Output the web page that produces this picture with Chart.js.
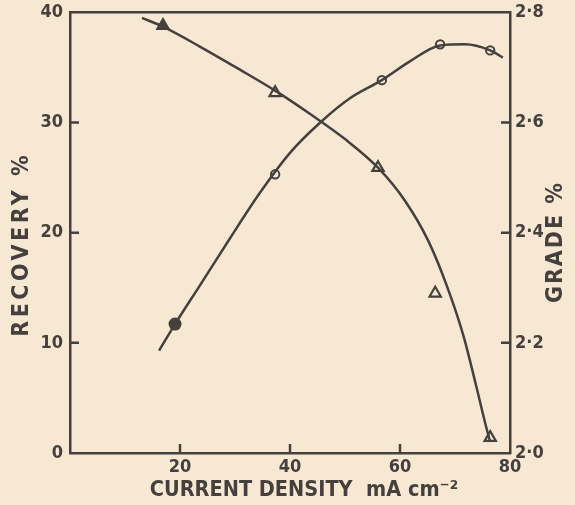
<!DOCTYPE html>
<html>
<head>
<meta charset="utf-8">
<script src="https://cdn.jsdelivr.net/npm/chart.js@4"></script>
<style>
  html, body { margin: 0; padding: 0; background: #f7e8d4; }
  canvas { display: block; }
</style>
</head>
<body>
<canvas id="chart" width="575" height="505"></canvas>
<script>
// values (current density in mA cm-2)
const triCurveX = [13.1, 16.9, 23.6, 30.9, 37.3, 43.6, 50.0, 56.0, 60.9, 65.1, 68.5, 71.5, 73.8, 75.6, 76.4];
const triCurveY = [39.5, 38.7, 36.9, 34.8, 32.9, 30.8, 28.5, 25.9, 22.9, 19.3, 15.2, 10.7, 6.2, 2.5, 1.0];
const triMarkX = [16.9, 37.3, 56.0, 66.4, 76.4];
const triMarkY = [38.8, 32.7, 25.9, 14.5, 1.4];
const triFilled = [true, false, false, false, false];

const circCurveX = [16.2, 19.1, 23.6, 29.1, 34.5, 40.0, 45.5, 50.9, 56.7, 61.8, 67.3, 71.8, 76.4, 78.7];
const circCurveY = [2.186, 2.234, 2.304, 2.39, 2.472, 2.545, 2.60, 2.644, 2.677, 2.711, 2.740, 2.742, 2.731, 2.718];
const circMarkX = [19.1, 37.3, 56.7, 67.3, 76.4];
const circMarkY = [2.234, 2.506, 2.677, 2.742, 2.731];
const circFilled = [true, false, false, false, false];

const xTicks = [20, 40, 60, 80];
const recoveryTicks = [0, 10, 20, 30, 40];
const gradeTicks = [2.0, 2.2, 2.4, 2.6, 2.8];

const ink = '#45403b';
const paper = '#f7e8d4';
const fontFam = "'DejaVu Sans Condensed', 'DejaVu Sans', sans-serif";

const zip = (xs, ys) => xs.map((x, i) => ({ x: x, y: ys[i] }));

// title text drawn by hand so it can sit where the print has it
function drawTitle(ctx, text, x, y, size, spacing, upright) {
    ctx.save();
    ctx.fillStyle = ink;
    ctx.font = 'bold ' + size + 'px ' + fontFam;
    ctx.letterSpacing = spacing + 'px';
    ctx.textAlign = 'center';
    ctx.textBaseline = 'middle';
    ctx.translate(x, y);
    if (!upright) ctx.rotate(-Math.PI / 2);
    ctx.fillText(text, spacing / 2, 0);
    ctx.restore();
}

// little inward tick marks, like the printed figure
const inwardTicks = {
    id: 'inwardTicks',
    afterDraw(chart) {
        const ctx = chart.ctx;
        const area = chart.chartArea;
        const len = 9;
        ctx.save();
        ctx.strokeStyle = ink;
        ctx.lineWidth = 2.5;
        ctx.beginPath();
        xTicks.forEach(v => {
            if (v <= 0 || v >= 80) return;
            const px = chart.scales.x.getPixelForValue(v);
            ctx.moveTo(px, area.bottom);
            ctx.lineTo(px, area.bottom - len);
        });
        recoveryTicks.forEach(v => {
            if (v <= 0 || v >= 40) return;
            const py = chart.scales.y.getPixelForValue(v);
            ctx.moveTo(area.left, py);
            ctx.lineTo(area.left + len, py);
        });
        gradeTicks.forEach(v => {
            if (v <= 2.0 || v >= 2.8) return;
            const py = chart.scales.y2.getPixelForValue(v);
            ctx.moveTo(area.right, py);
            ctx.lineTo(area.right - len, py);
        });
        ctx.stroke();
        ctx.restore();

        drawTitle(ctx, 'RECOVERY %', 22, 246, 23, 3.5, false);
        drawTitle(ctx, 'GRADE %', 556, 243, 23, 2, false);
        drawTitle(ctx, 'CURRENT DENSITY  mA cm\u207B\u00B2', 304, 490, 21.5, 0, true);
    }
};

const tickFont = { family: fontFam, size: 18, weight: 'bold', lineHeight: 0.6 };

new Chart(document.getElementById('chart'), {
    type: 'line',
    data: {
        datasets: [
            {
                data: zip(triCurveX, triCurveY),
                yAxisID: 'y',
                borderColor: ink,
                borderWidth: 2.5,
                pointRadius: 0,
                cubicInterpolationMode: 'monotone',
                clip: false
            },
            {
                data: zip(triMarkX, triMarkY),
                yAxisID: 'y',
                showLine: false,
                pointStyle: 'triangle',
                pointRadius: 6.5,
                pointBorderWidth: 2.2,
                pointBorderColor: ink,
                pointBackgroundColor: triFilled.map(f => f ? ink : paper),
                clip: false
            },
            {
                data: zip(circCurveX, circCurveY),
                yAxisID: 'y2',
                borderColor: ink,
                borderWidth: 2.5,
                pointRadius: 0,
                cubicInterpolationMode: 'monotone',
                clip: false
            },
            {
                data: zip(circMarkX, circMarkY),
                yAxisID: 'y2',
                showLine: false,
                pointStyle: 'circle',
                pointRadius: circFilled.map(f => f ? 5.5 : 4.2),
                pointBorderWidth: 2,
                pointBorderColor: ink,
                pointBackgroundColor: circFilled.map(f => f ? ink : paper),
                clip: false
            }
        ]
    },
    options: {
        responsive: false,
        animation: false,
        layout: { padding: 0 },
        plugins: { legend: { display: false }, tooltip: { enabled: false } },
        scales: {
            x: {
                type: 'linear',
                position: 'bottom',
                min: 0,
                max: 80,
                afterBuildTicks: s => { s.ticks = [0].concat(xTicks).map(v => ({ value: v })); },
                ticks: {
                    color: ink,
                    font: { family: fontFam, size: 18, weight: 'bold' },
                    padding: 4,
                    maxRotation: 0,
                    callback: v => v === 0 ? '' : v
                },
                grid: { display: false, drawTicks: false },
                border: { color: ink, width: 2.5 },
                afterFit: s => { s.height = 52; }
            },
            xTop: {
                type: 'linear',
                position: 'top',
                min: 0,
                max: 80,
                ticks: { display: false },
                grid: { display: false, drawTicks: false },
                border: { color: ink, width: 2.5 },
                afterFit: s => { s.height = 11; }
            },
            y: {
                type: 'linear',
                position: 'left',
                min: 0,
                max: 40,
                afterBuildTicks: s => { s.ticks = recoveryTicks.map(v => ({ value: v })); },
                ticks: { color: ink, font: tickFont, padding: 7 },
                grid: { display: false, drawTicks: false },
                border: { color: ink, width: 2.5 },
                afterFit: s => { s.width = 70; }
            },
            y2: {
                type: 'linear',
                position: 'right',
                min: 2.0,
                max: 2.8,
                afterBuildTicks: s => { s.ticks = gradeTicks.map(v => ({ value: v })); },
                ticks: {
                    color: ink,
                    font: tickFont,
                    padding: 5,
                    callback: v => Number(v).toFixed(1).replace('.', '\u00B7')
                },
                grid: { display: false, drawTicks: false },
                border: { color: ink, width: 2.5 },
                afterFit: s => { s.width = 65; }
            }
        }
    },
    plugins: [inwardTicks]
});
</script>
</body>
</html>
